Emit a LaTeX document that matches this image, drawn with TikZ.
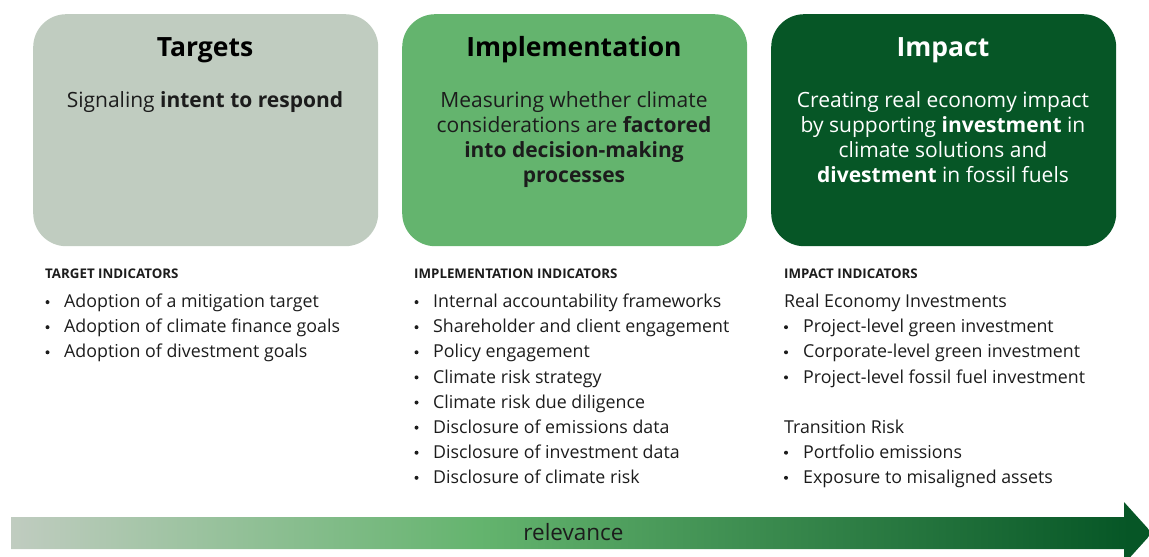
\documentclass[tikz,border=0pt]{standalone}
\usepackage{fontspec}
\setmainfont{Open Sans}
\definecolor{tgt}{RGB}{192,204,192}
\definecolor{imp}{RGB}{100,180,110}
\definecolor{ipc}{RGB}{6,86,38}
\definecolor{txt}{RGB}{28,28,28}
\pgfdeclarehorizontalshading{relshade}{100bp}{color(0bp)=(tgt); color(25bp)=(tgt); color(45.5bp)=(imp); color(74bp)=(ipc); color(100bp)=(ipc)}
\begin{document}
\begin{tikzpicture}[x=1pt,y=-1pt,
  panel/.style={rounded corners=33pt, inner sep=0pt, minimum width=345pt, minimum height=232pt, anchor=north west},
  ttl/.style={font=\fontsize{26.5}{30}\selectfont\bfseries, anchor=base, inner sep=0pt},
  sub/.style={font=\fontsize{21}{25}\selectfont, anchor=base, inner sep=0pt, text=txt},
  hdr/.style={font=\fontsize{13.3}{16}\selectfont\bfseries, anchor=base west, inner sep=0pt, text=txt},
  itm/.style={font=\fontsize{17.8}{21}\selectfont, anchor=base west, inner sep=0pt, text=txt},
  dot/.style={circle, fill=txt, inner sep=0pt, minimum size=4pt}
]
\useasboundingbox (0,0) rectangle (1149,557);
\clip (0,0) rectangle (1149,557);

% panels
\node[panel, fill=tgt] (tbox) at (33,14) {};
\node[panel, fill=imp] (ibox) at (402,14) {};
\node[panel, fill=ipc] (pbox) at (771,14) {};

% titles
\node[ttl] (ttitle) at (205,56) {Targets};
\node[ttl] (ititle) at (574,56) {Implementation};
\node[ttl, text=white] (ptitle) at (943,56) {Impact};

% subtitles
\node[sub] (tsub1) at (205,107) {Signaling \textbf{intent to respond}};
\node[sub] (isub1) at (574,107) {Measuring whether climate};
\node[sub] (isub2) at (574,132) {considerations are \textbf{factored}};
\node[sub] (isub3) at (574,157) {\textbf{into decision-making}};
\node[sub] (isub4) at (574,182) {\textbf{processes}};
\node[sub, text=white] (psub1) at (943,107) {Creating real economy impact};
\node[sub, text=white] (psub2) at (943,132) {by supporting \textbf{investment} in};
\node[sub, text=white] (psub3) at (943,157) {climate solutions and};
\node[sub, text=white] (psub4) at (943,182) {\textbf{divestment} in fossil fuels};

% headers
\node[hdr] (thdr) at (45,278.3) {TARGET INDICATORS};
\node[hdr] (ihdr) at (414,278.3) {IMPLEMENTATION INDICATORS};
\node[hdr] (phdr) at (784,278.3) {IMPACT INDICATORS};

% target items
\foreach \t [count=\i] in {Adoption of a mitigation target, Adoption of climate finance goals, Adoption of divestment goals} {
  \node[dot] (tb\i) at (47.5,277+25.1*\i) {};
  \node[itm] (t\i) at (64,282.6+25.1*\i) {\t};
}
% implementation items
\foreach \t [count=\i] in {Internal accountability frameworks, Shareholder and client engagement, Policy engagement, Climate risk strategy, Climate risk due diligence, Disclosure of emissions data, Disclosure of investment data, Disclosure of climate risk} {
  \node[dot] (ib\i) at (416.5,277+25.1*\i) {};
  \node[itm] (i\i) at (433,282.6+25.1*\i) {\t};
}
% impact items
\node[itm] (pgrp1) at (784,307.7) {Real Economy Investments};
\foreach \t [count=\i from 2] in {Project-level green investment, Corporate-level green investment, Project-level fossil fuel investment} {
  \node[dot] (pb\i) at (786,277+25.1*\i) {};
  \node[itm] (p\i) at (803,282.6+25.1*\i) {\t};
}
\node[itm] (pgrp2) at (784,433.2) {Transition Risk};
\foreach \t [count=\i from 7] in {Portfolio emissions, Exposure to misaligned assets} {
  \node[dot] (pb\i) at (786,277+25.1*\i) {};
  \node[itm] (p\i) at (803,282.6+25.1*\i) {\t};
}

% relevance arrow
\path[shading=relshade]
  (11,517) -- (1124,517) -- (1124,502) -- (1152,533) -- (1124,564) -- (1124,549) -- (11,549) -- cycle;
\node[font=\fontsize{22.5}{26}\selectfont, text=txt, anchor=base, inner sep=0pt] (rel) at (573.5,540.5) {relevance};
\end{tikzpicture}
\end{document}
